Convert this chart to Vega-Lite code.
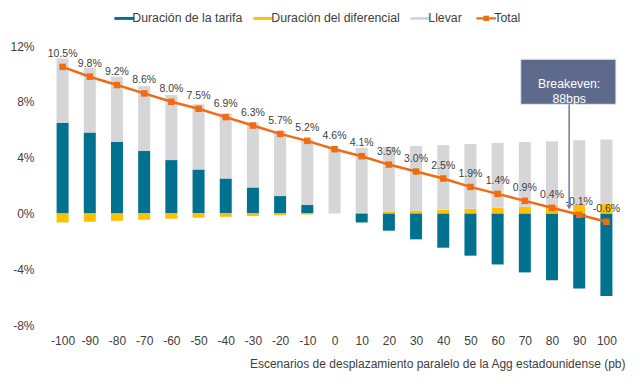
{
  "$schema": "https://vega.github.io/schema/vega-lite/v6.json",
  "autosize": {"type": "none"},
  "width": 581,
  "height": 279,
  "padding": {"left": 44, "top": 46, "right": 15, "bottom": 59},
  "background": "white",
  "config": {
    "font": "Liberation Sans",
    "view": {"stroke": null}
  },
  "datasets": {
    "bars": [
      {"x": -100, "serie": "Duración de la tarifa", "v": 0.065},
      {"x": -100, "serie": "Duración del diferencial", "v": -0.0065},
      {"x": -100, "serie": "Llevar", "v": 0.046},
      {"x": -90, "serie": "Duración de la tarifa", "v": 0.058},
      {"x": -90, "serie": "Duración del diferencial", "v": -0.006},
      {"x": -90, "serie": "Llevar", "v": 0.0464},
      {"x": -80, "serie": "Duración de la tarifa", "v": 0.0513},
      {"x": -80, "serie": "Duración del diferencial", "v": -0.0053},
      {"x": -80, "serie": "Llevar", "v": 0.0466},
      {"x": -70, "serie": "Duración de la tarifa", "v": 0.0447},
      {"x": -70, "serie": "Duración del diferencial", "v": -0.0045},
      {"x": -70, "serie": "Llevar", "v": 0.0465},
      {"x": -60, "serie": "Duración de la tarifa", "v": 0.0382},
      {"x": -60, "serie": "Duración del diferencial", "v": -0.0038},
      {"x": -60, "serie": "Llevar", "v": 0.0466},
      {"x": -50, "serie": "Duración de la tarifa", "v": 0.0315},
      {"x": -50, "serie": "Duración del diferencial", "v": -0.0031},
      {"x": -50, "serie": "Llevar", "v": 0.0467},
      {"x": -40, "serie": "Duración de la tarifa", "v": 0.025},
      {"x": -40, "serie": "Duración del diferencial", "v": -0.0024},
      {"x": -40, "serie": "Llevar", "v": 0.0467},
      {"x": -30, "serie": "Duración de la tarifa", "v": 0.0186},
      {"x": -30, "serie": "Duración del diferencial", "v": -0.0019},
      {"x": -30, "serie": "Llevar", "v": 0.0466},
      {"x": -20, "serie": "Duración de la tarifa", "v": 0.0124},
      {"x": -20, "serie": "Duración del diferencial", "v": -0.0014},
      {"x": -20, "serie": "Llevar", "v": 0.0466},
      {"x": -10, "serie": "Duración de la tarifa", "v": 0.006},
      {"x": -10, "serie": "Duración del diferencial", "v": -0.0008},
      {"x": -10, "serie": "Llevar", "v": 0.0468},
      {"x": 0, "serie": "Duración de la tarifa", "v": 0},
      {"x": 0, "serie": "Duración del diferencial", "v": 0},
      {"x": 0, "serie": "Llevar", "v": 0.0466},
      {"x": 10, "serie": "Duración de la tarifa", "v": -0.0065},
      {"x": 10, "serie": "Duración del diferencial", "v": 0.0005},
      {"x": 10, "serie": "Llevar", "v": 0.0466},
      {"x": 20, "serie": "Duración de la tarifa", "v": -0.0124},
      {"x": 20, "serie": "Duración del diferencial", "v": 0.001},
      {"x": 20, "serie": "Llevar", "v": 0.0467},
      {"x": 30, "serie": "Duración de la tarifa", "v": -0.0186},
      {"x": 30, "serie": "Duración del diferencial", "v": 0.0019},
      {"x": 30, "serie": "Llevar", "v": 0.0464},
      {"x": 40, "serie": "Duración de la tarifa", "v": -0.0246},
      {"x": 40, "serie": "Duración del diferencial", "v": 0.0026},
      {"x": 40, "serie": "Llevar", "v": 0.0464},
      {"x": 50, "serie": "Duración de la tarifa", "v": -0.0303},
      {"x": 50, "serie": "Duración del diferencial", "v": 0.0033},
      {"x": 50, "serie": "Llevar", "v": 0.0464},
      {"x": 60, "serie": "Duración de la tarifa", "v": -0.0366},
      {"x": 60, "serie": "Duración del diferencial", "v": 0.004},
      {"x": 60, "serie": "Llevar", "v": 0.0464},
      {"x": 70, "serie": "Duración de la tarifa", "v": -0.0423},
      {"x": 70, "serie": "Duración del diferencial", "v": 0.0048},
      {"x": 70, "serie": "Llevar", "v": 0.0463},
      {"x": 80, "serie": "Duración de la tarifa", "v": -0.048},
      {"x": 80, "serie": "Duración del diferencial", "v": 0.0057},
      {"x": 80, "serie": "Llevar", "v": 0.046},
      {"x": 90, "serie": "Duración de la tarifa", "v": -0.0538},
      {"x": 90, "serie": "Duración del diferencial", "v": 0.0062},
      {"x": 90, "serie": "Llevar", "v": 0.0463},
      {"x": 100, "serie": "Duración de la tarifa", "v": -0.0593},
      {"x": 100, "serie": "Duración del diferencial", "v": 0.0067},
      {"x": 100, "serie": "Llevar", "v": 0.0463}
    ],
    "total": [
      {"x": -100, "serie": "Total", "total": 0.105},
      {"x": -90, "serie": "Total", "total": 0.098},
      {"x": -80, "serie": "Total", "total": 0.092},
      {"x": -70, "serie": "Total", "total": 0.086},
      {"x": -60, "serie": "Total", "total": 0.080},
      {"x": -50, "serie": "Total", "total": 0.075},
      {"x": -40, "serie": "Total", "total": 0.069},
      {"x": -30, "serie": "Total", "total": 0.063},
      {"x": -20, "serie": "Total", "total": 0.057},
      {"x": -10, "serie": "Total", "total": 0.052},
      {"x": 0, "serie": "Total", "total": 0.046},
      {"x": 10, "serie": "Total", "total": 0.041},
      {"x": 20, "serie": "Total", "total": 0.035},
      {"x": 30, "serie": "Total", "total": 0.030},
      {"x": 40, "serie": "Total", "total": 0.025},
      {"x": 50, "serie": "Total", "total": 0.019},
      {"x": 60, "serie": "Total", "total": 0.014},
      {"x": 70, "serie": "Total", "total": 0.009},
      {"x": 80, "serie": "Total", "total": 0.004},
      {"x": 90, "serie": "Total", "total": -0.001},
      {"x": 100, "serie": "Total", "total": -0.006}
    ],
    "annot": [
      {"x0": 68.5, "x1": 103.5, "y0": 0.1105, "y1": 0.0782, "xc": 86.3, "yc": 0.0926, "label": ["Breakeven:", "88bps"], "ytip": 0.0045}
    ]
  },
  "encoding": {
    "x": {
      "field": "x",
      "type": "quantitative",
      "scale": {"domain": [-105, 105], "nice": false, "zero": false},
      "axis": {
        "values": [-100, -90, -80, -70, -60, -50, -40, -30, -20, -10, 0, 10, 20, 30, 40, 50, 60, 70, 80, 90, 100],
        "labelExpr": "replace(datum.label, '\u2212', '-')",
        "title": "Escenarios de desplazamiento paralelo de la Agg estadounidense (pb)",
        "titleFontSize": 12,
        "titleFontWeight": "normal",
        "titleColor": "#404040",
        "titleAnchor": "end",
        "titlePadding": 12,
        "labelFontSize": 12,
        "labelColor": "#404040",
        "labelPadding": 10,
        "labelFlush": false,
        "labelOverlap": false,
        "domain": false,
        "ticks": false,
        "grid": false
      }
    }
  },
  "layer": [
    {
      "data": {"values": [{"z": 0}]},
      "mark": {"type": "rule", "color": "#d9d9d9", "strokeWidth": 1},
      "encoding": {
        "x": {"datum": -105},
        "x2": {"datum": 105},
        "y": {"field": "z", "type": "quantitative"}
      }
    },
    {
      "data": {"name": "bars"},
      "mark": {"type": "bar", "size": 12},
      "encoding": {
        "y": {
          "field": "v",
          "type": "quantitative",
          "stack": "zero",
          "scale": {"domain": [-0.08, 0.12], "nice": false},
          "axis": {
            "values": [-0.08, -0.06, -0.04, -0.02, 0, 0.02, 0.04, 0.06, 0.08, 0.1, 0.12],
            "format": ".0%",
            "labelExpr": "replace(datum.label, '\u2212', '-')",
            "title": null,
            "labelFontSize": 12,
            "labelColor": "#404040",
            "labelPadding": 10,
            "labelFlush": false,
            "labelOverlap": false,
            "labelBound": false,
            "domain": false,
            "ticks": false,
            "grid": false
          }
        },
        "order": {"field": "serie", "type": "nominal", "sort": "ascending"},
        "color": {
          "field": "serie",
          "type": "nominal",
          "scale": {
            "domain": ["Duración de la tarifa", "Duración del diferencial", "Llevar", "Total"],
            "range": ["#00718f", "#ffc000", "#d6d6d8", "#f06c12"]
          },
          "legend": {
            "title": null,
            "orient": "none",
            "legendX": 74,
            "legendY": -34,
            "direction": "horizontal",
            "columnPadding": 10,
            "labelOffset": 2,
            "labelFontSize": 12.3,
            "labelColor": "#404040",
            "symbolSize": 380,
            "symbolOpacity": 1,
            "symbolStrokeWidth": 0,
            "encode": {
              "symbols": {
                "update": {
                  "shape": {"signal": "datum.value == 'Total' ? 'M-1,0H1M-0.17,-0.15H0.17V0.15H-0.17Z' : 'M-1,-0.15H1V0.15H-1Z'"},
                  "fill": {"scale": "color", "field": "value"},
                  "stroke": {"scale": "color", "field": "value"},
                  "strokeWidth": {"signal": "datum.value == 'Total' ? 2.2 : 0"},
                  "opacity": {"value": 1}
                }
              }
            }
          }
        }
      }
    },
    {
      "data": {"name": "total"},
      "mark": {"type": "line", "strokeWidth": 2.5},
      "encoding": {
        "y": {"field": "total", "type": "quantitative"},
        "color": {"field": "serie", "type": "nominal"}
      }
    },
    {
      "data": {"name": "total"},
      "mark": {"type": "point", "shape": "square", "filled": true, "size": 42, "color": "#f06c12", "opacity": 1},
      "encoding": {
        "y": {"field": "total", "type": "quantitative"}
      }
    },
    {
      "data": {"name": "total"},
      "transform": [
        {"calculate": "replace(format(datum.total, '.1%'), '\u2212', '-')", "as": "lbl"}
      ],
      "mark": {"type": "text", "dy": -13, "fontSize": 10.5, "color": "#404040", "baseline": "middle"},
      "encoding": {
        "y": {"field": "total", "type": "quantitative"},
        "text": {"field": "lbl", "type": "nominal"}
      }
    },
    {
      "data": {"name": "annot"},
      "mark": {"type": "rect", "fill": "#5e6a8b", "stroke": "#e3e6ee", "strokeWidth": 1},
      "encoding": {
        "x": {"field": "x0", "type": "quantitative"},
        "x2": {"field": "x1"},
        "y": {"field": "y0", "type": "quantitative"},
        "y2": {"field": "y1"}
      }
    },
    {
      "data": {"name": "annot"},
      "mark": {"type": "text", "color": "white", "fontSize": 12.3, "lineHeight": 15, "align": "center", "baseline": "middle"},
      "encoding": {
        "x": {"field": "xc", "type": "quantitative"},
        "y": {"field": "yc", "type": "quantitative"},
        "text": {"field": "label"}
      }
    },
    {
      "data": {"name": "annot"},
      "mark": {"type": "rule", "color": "#6e7b99", "strokeWidth": 1.5},
      "encoding": {
        "x": {"field": "xc", "type": "quantitative"},
        "y": {"field": "y1", "type": "quantitative"},
        "y2": {"field": "ytip"}
      }
    },
    {
      "data": {"name": "annot"},
      "mark": {"type": "point", "shape": "triangle-down", "filled": true, "size": 30, "color": "#6e7b99", "opacity": 1},
      "encoding": {
        "x": {"field": "xc", "type": "quantitative"},
        "y": {"field": "ytip", "type": "quantitative"}
      }
    }
  ]
}
